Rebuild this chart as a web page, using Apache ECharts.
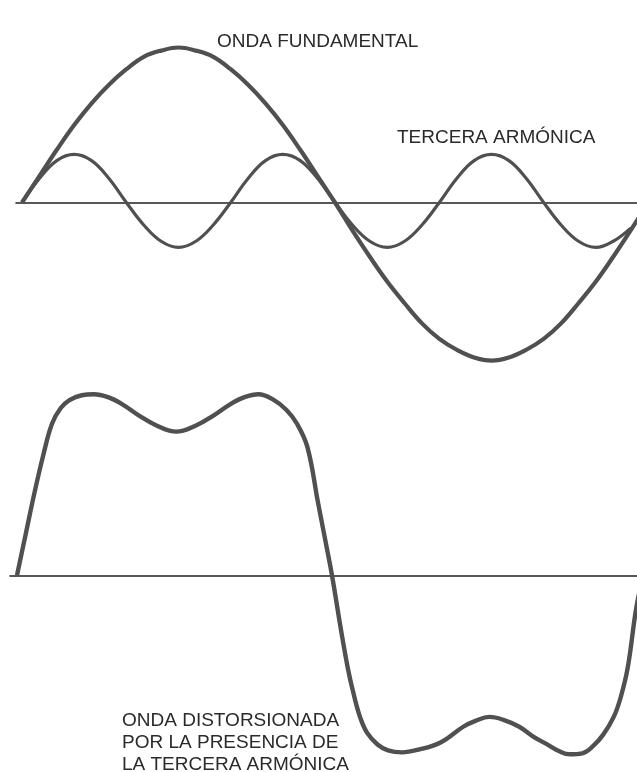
<!DOCTYPE html>
<html>
<head>
<meta charset="utf-8">
<script src="https://cdn.jsdelivr.net/npm/echarts@6/dist/echarts.min.js"></script>
<style>
html,body{margin:0;padding:0;background:#fff;}
#chart{width:637px;height:772px;}
</style>
</head>
<body>
<div id="chart"></div>
<script>
// Phase angle (degrees) for the upper panel
const topAngles = [0,10,20,30,40,50,60,70,80,90,100,110,120,130,140,150,160,170,180,190,200,210,220,230,240,250,260,270,280,290,300,310,320,330,340,350,360];
// ONDA FUNDAMENTAL (relative amplitude)
const fundamental = [0,0.17,0.34,0.50,0.64,0.76,0.86,0.94,0.98,1.0,0.98,0.94,0.86,0.76,0.64,0.50,0.34,0.17,0,-0.18,-0.35,-0.51,-0.65,-0.78,-0.88,-0.95,-1.0,-1.02,-1.0,-0.95,-0.88,-0.78,-0.65,-0.51,-0.35,-0.18,0];
// TERCERA ARMÓNICA
const harmonicAngles = [0,10,20,30,40,50,60,70,80,90,100,110,120,130,140,150,160,170,180,190,200,210,220,230,240,250,260,270,280,290,300,310,320,330,340,350];
const harmonic = [0,0.155,0.27,0.31,0.27,0.155,0,-0.145,-0.25,-0.29,-0.25,-0.145,0,0.155,0.27,0.31,0.27,0.155,0,-0.145,-0.25,-0.29,-0.25,-0.145,0,0.155,0.27,0.31,0.27,0.155,0,-0.145,-0.25,-0.29,-0.25,-0.165];
// ONDA DISTORSIONADA
const distortedAngles = [0,5,10,15,20,25,30,37,44,52,60,70,80,91,102,112,122,130,138,146,154,160,166,172,177,180,185,189,192,196,200,206,212,220,230,242,255,262,270,278,287,295,303,310,316,323,329,335,341,345,349,354,358];
const distorted = [0,0.21,0.42,0.61,0.77,0.85,0.89,0.915,0.92,0.905,0.87,0.81,0.76,0.73,0.76,0.81,0.87,0.905,0.92,0.895,0.84,0.77,0.65,0.37,0.14,0,-0.27,-0.47,-0.59,-0.72,-0.80,-0.86,-0.89,-0.90,-0.885,-0.85,-0.77,-0.74,-0.72,-0.735,-0.77,-0.82,-0.86,-0.895,-0.91,-0.905,-0.87,-0.81,-0.72,-0.62,-0.47,-0.16,0];

const labelTop1 = 'ONDA FUNDAMENTAL';
const labelTop2 = 'TERCERA ARMÓNICA';
const labelBottom = ['ONDA DISTORSIONADA','POR LA PRESENCIA DE','LA TERCERA ARMÓNICA'];

const pair = (xs, ys) => xs.map((x, i) => [x, ys[i]]);
const lineColor = '#505050';
const axisColor = '#222';
const font = '"Liberation Sans", Arial, sans-serif';

const hiddenY = (min, max, idx) => ({
  type: 'value', gridIndex: idx, min: min, max: max, show: false,
  splitLine: {show: false}
});
const xAx = (min, max, idx) => ({
  type: 'value', gridIndex: idx, min: min, max: max,
  axisLine: {show: true, onZero: true, lineStyle: {color: axisColor, width: 1.6}},
  axisTick: {show: false}, axisLabel: {show: false}, splitLine: {show: false}
});

const chart = echarts.init(document.getElementById('chart'), null, {renderer: 'canvas'});
chart.setOption({
  backgroundColor: '#fff',
  animation: false,
  grid: [
    {left: 16, width: 621, top: 1, height: 403},
    {left: 10, width: 627, top: 378.5, height: 396}
  ],
  xAxis: [xAx(-3.45, 353.66, 0), xAx(-4, 354.3, 1)],
  yAxis: [hiddenY(-1.3, 1.3, 0), hiddenY(-1, 1, 1)],
  series: [
    {type: 'line', xAxisIndex: 0, yAxisIndex: 0, data: pair(topAngles, fundamental), smooth: 0.4,
     showSymbol: false, lineStyle: {color: lineColor, width: 4.2}},
    {type: 'line', xAxisIndex: 0, yAxisIndex: 0, data: pair(harmonicAngles, harmonic), smooth: 0.4,
     showSymbol: false, lineStyle: {color: lineColor, width: 3.2}},
    {type: 'line', xAxisIndex: 1, yAxisIndex: 1, data: pair(distortedAngles, distorted), smooth: 0.4,
     showSymbol: false, lineStyle: {color: lineColor, width: 4.4}}
  ],
  graphic: [
    {type: 'text', left: 217, top: 32, style: {text: labelTop1, font: '19px ' + font, fill: '#2a2a2a'}},
    {type: 'text', left: 397, top: 128, style: {text: labelTop2, font: '19px ' + font, fill: '#2a2a2a'}},
    {type: 'text', left: 122, top: 710, style: {text: labelBottom.join('\n'), font: '19px ' + font, fill: '#2a2a2a', lineHeight: 22}}
  ]
});
</script>
</body>
</html>
